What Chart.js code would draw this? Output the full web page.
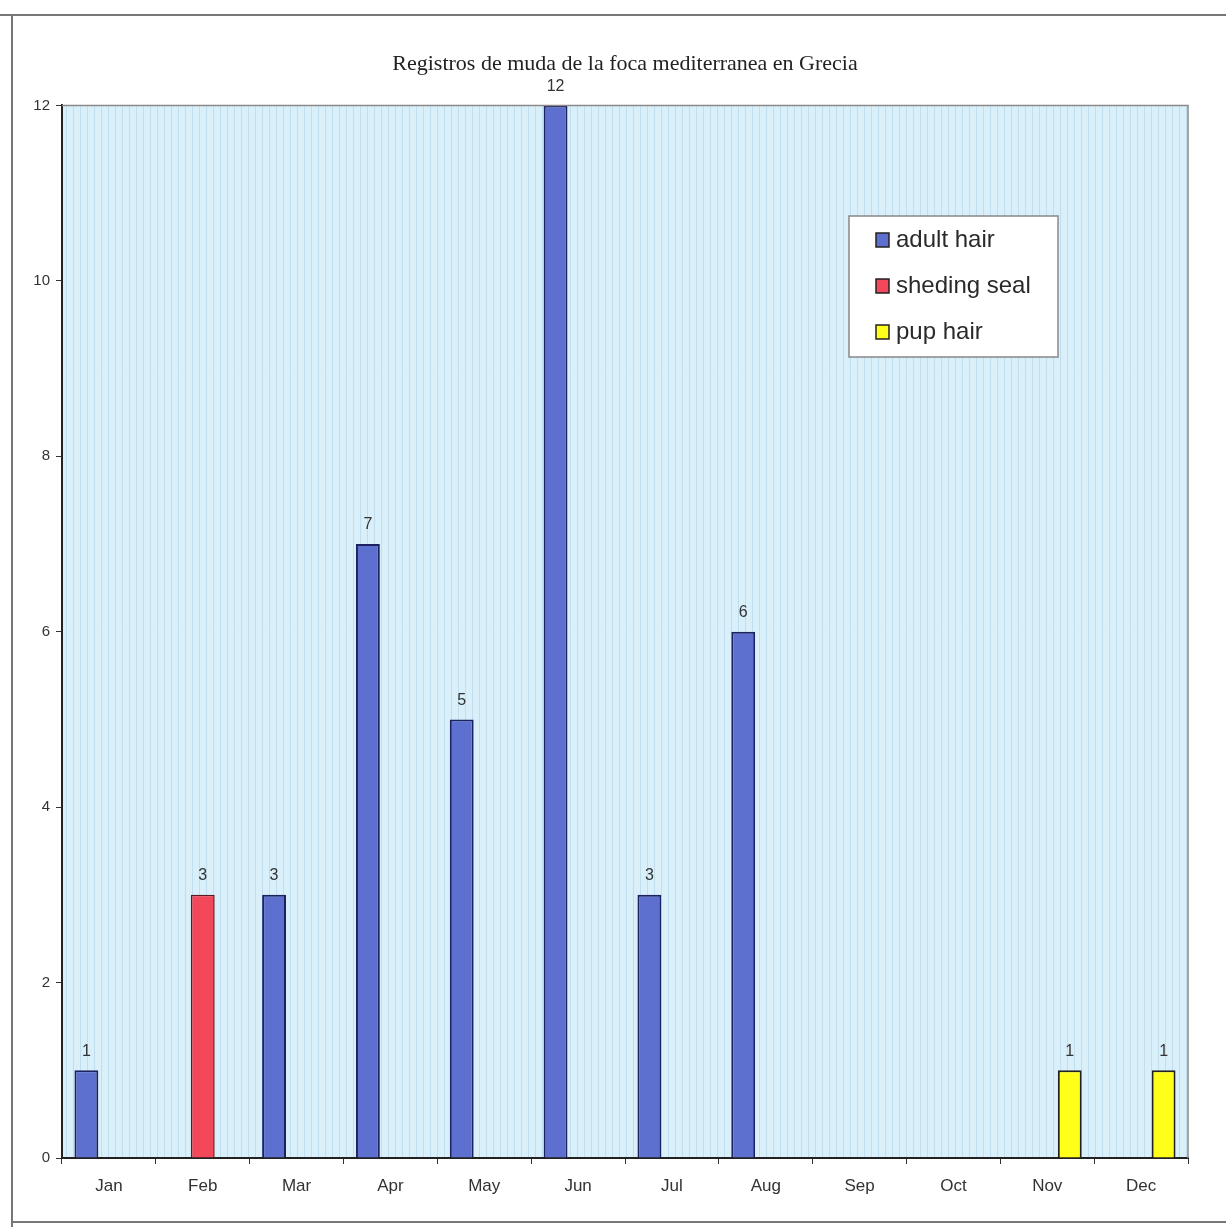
<!DOCTYPE html>
<html>
<head>
<meta charset="utf-8">
<script src="https://cdn.jsdelivr.net/npm/chart.js@4"></script>
<style>
html,body{margin:0;padding:0;background:#fff;}
canvas{display:block;}
</style>
</head>
<body>
<canvas id="c" width="1226" height="1227"></canvas>
<script>
const months = ['Jan','Feb','Mar','Apr','May','Jun','Jul','Aug','Sep','Oct','Nov','Dec'];
const adultHair   = [1, null, 3, 7, 5, 12, 3, 6, null, null, null, null];
const shedingSeal = [null, 3, null, null, null, null, null, null, null, null, null, null];
const pupHair     = [null, null, null, null, null, null, null, null, null, null, 1, 1];
const seriesNames = ['adult hair', 'sheding seal', 'pup hair'];
const chartTitle = 'Registros de muda de la foca mediterranea en Grecia';
const yMin = 0, yMax = 12, yStep = 2;

const frame = {
  id: 'frame',
  beforeDraw(chart) {
    const ctx = chart.ctx, a = chart.chartArea;
    ctx.save();
    ctx.fillStyle = '#d9f0fb';
    ctx.fillRect(a.left, a.top, a.right - a.left, a.bottom - a.top);
    // faint vertical texture
    ctx.strokeStyle = 'rgba(150,190,215,0.35)';
    ctx.lineWidth = 1;
    for (let x = a.left + 4; x < a.right; x += 7) {
      ctx.beginPath(); ctx.moveTo(x + 0.5, a.top); ctx.lineTo(x + 0.5, a.bottom); ctx.stroke();
    }
    // page frame
    ctx.strokeStyle = '#777';
    ctx.lineWidth = 2;
    ctx.beginPath();
    ctx.moveTo(0, 15); ctx.lineTo(1226, 15);
    ctx.moveTo(12, 15); ctx.lineTo(12, 1227);
    ctx.moveTo(12, 1222); ctx.lineTo(1226, 1222);
    ctx.stroke();
    ctx.restore();
  },
  afterDatasetsDraw(chart) {
    const ctx = chart.ctx, a = chart.chartArea;
    ctx.save();
    // plot border top/right
    ctx.strokeStyle = '#8a8a8a';
    ctx.lineWidth = 1.5;
    ctx.beginPath();
    ctx.moveTo(a.left, a.top); ctx.lineTo(a.right, a.top); ctx.lineTo(a.right, a.bottom);
    ctx.stroke();
    // data labels
    ctx.font = '16px "Liberation Sans", Arial, sans-serif';
    ctx.fillStyle = '#333';
    ctx.textAlign = 'center';
    ctx.textBaseline = 'bottom';
    chart.data.datasets.forEach((ds, i) => {
      const meta = chart.getDatasetMeta(i);
      meta.data.forEach((bar, j) => {
        const v = ds.data[j];
        if (v === null || v === undefined) return;
        ctx.fillText(String(v), bar.x, bar.y - 11);
      });
    });
    // legend
    const lx = 849, ly = 216, lw = 209, lh = 141;
    ctx.fillStyle = '#fff';
    ctx.fillRect(lx, ly, lw, lh);
    ctx.strokeStyle = '#888';
    ctx.lineWidth = 1.5;
    ctx.strokeRect(lx, ly, lw, lh);
    ctx.font = '24px "Liberation Sans", Arial, sans-serif';
    ctx.textAlign = 'left';
    ctx.textBaseline = 'middle';
    chart.data.datasets.forEach((ds, i) => {
      const cy = 240 + i * 46;
      ctx.fillStyle = ds.backgroundColor;
      ctx.fillRect(876, cy - 7, 13, 14);
      ctx.strokeStyle = '#222';
      ctx.lineWidth = 1.5;
      ctx.strokeRect(876, cy - 7, 13, 14);
      ctx.fillStyle = '#2a2a2a';
      ctx.fillText(ds.label, 896, cy);
    });
    ctx.restore();
  }
};

new Chart(document.getElementById('c'), {
  type: 'bar',
  data: {
    labels: months,
    datasets: [
      { label: seriesNames[0], data: adultHair, backgroundColor: '#5d70cf', borderColor: '#1c2160', borderWidth: 2 },
      { label: seriesNames[1], data: shedingSeal, backgroundColor: '#f2485a', borderColor: '#5a1a22', borderWidth: 1.5 },
      { label: seriesNames[2], data: pupHair, backgroundColor: '#ffff1a', borderColor: '#222', borderWidth: 2 }
    ]
  },
  options: {
    responsive: false,
    animation: false,
    devicePixelRatio: 1,
    layout: { padding: { left: 0, right: 38, top: 0, bottom: 0 } },
    datasets: { bar: { categoryPercentage: 0.72, barPercentage: 1.06, grouped: true } },
    plugins: {
      legend: { display: false },
      tooltip: { enabled: false },
      title: {
        display: true,
        fullSize: false,
        text: chartTitle,
        color: '#222',
        font: { family: '"Liberation Serif", "Times New Roman", serif', size: 22, weight: 'normal' },
        padding: { top: 51, bottom: 28 }
      }
    },
    scales: {
      x: {
        offset: true,
        grid: { display: true, offset: true, drawOnChartArea: false, drawTicks: true, tickLength: 6, color: '#333' },
        border: { display: true, color: '#222', width: 2 },
        ticks: { color: '#333', padding: 12, font: { family: '"Liberation Sans", Arial, sans-serif', size: 17 } },
        afterFit(s) { s.height = 69; }
      },
      y: {
        min: yMin, max: yMax,
        grid: { display: true, drawOnChartArea: false, drawTicks: true, tickLength: 6, color: '#333' },
        border: { display: true, color: '#222', width: 2 },
        ticks: { stepSize: yStep, color: '#333', padding: 6, font: { family: '"Liberation Sans", Arial, sans-serif', size: 15 } },
        afterFit(s) { s.width = 62; }
      }
    }
  },
  plugins: [frame]
});
</script>
</body>
</html>
